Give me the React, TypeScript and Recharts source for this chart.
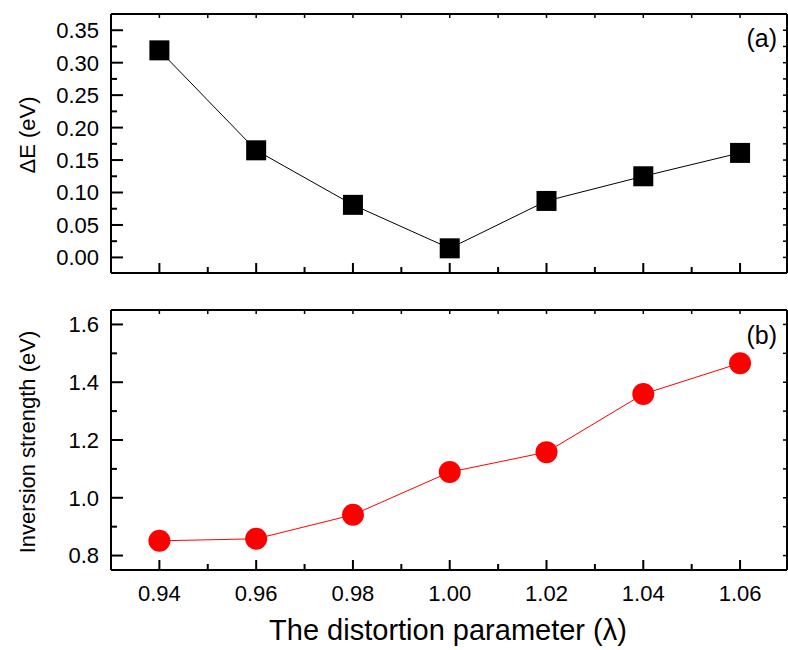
import { LineChart, Line, XAxis, YAxis } from "recharts";

const lambda = [0.94, 0.96, 0.98, 1.0, 1.02, 1.04, 1.06];
const deltaE = [0.319, 0.165, 0.081, 0.014, 0.087, 0.125, 0.161];
const inversion = [0.851, 0.858, 0.941, 1.089, 1.158, 1.359, 1.466];

const xMajor = [0.94, 0.96, 0.98, 1.0, 1.02, 1.04, 1.06];
const xMinor = [0.95, 0.97, 0.99, 1.01, 1.03, 1.05];
const xLabels = ["0.94", "0.96", "0.98", "1.00", "1.02", "1.04", "1.06"];

const topMajor = [0, 0.05, 0.1, 0.15, 0.2, 0.25, 0.3, 0.35];
const topMinor = [0.025, 0.075, 0.125, 0.175, 0.225, 0.275, 0.325];
const topLabels = ["0.00", "0.05", "0.10", "0.15", "0.20", "0.25", "0.30", "0.35"];

const botMajor = [0.8, 1.0, 1.2, 1.4, 1.6];
const botMinor = [0.9, 1.1, 1.3, 1.5];
const botLabels = ["0.8", "1.0", "1.2", "1.4", "1.6"];

const topData = lambda.map((x, i) => ({ x, v: deltaE[i] }));
const botData = lambda.map((x, i) => ({ x, v: inversion[i] }));

const FONT = "'Liberation Sans', Arial, sans-serif";
const X_DOMAIN = [0.93, 1.0697];

const idx = (arr: number[], v: number) =>
  arr.findIndex((a) => Math.abs(a - v) < 1e-6);

// ticks point inward, like the original plot
function BottomTick({ x, y, payload, labels }: any) {
  const i = idx(xMajor, payload.value);
  const major = i >= 0;
  return (
    <g>
      <line x1={x} x2={x} y1={y} y2={y - (major ? 10 : 6)} stroke="#000" strokeWidth={2} />
      {major && labels && (
        <text x={x} y={y + 31} textAnchor="middle" fontSize={22} fontFamily={FONT} fill="#000">
          {labels[i]}
        </text>
      )}
    </g>
  );
}

function TopTick({ x, y }: any) {
  return <line x1={x} x2={x} y1={y} y2={y + 4} stroke="#000" strokeWidth={1.5} />;
}

function RightTick({ x, y }: any) {
  return <line x1={x} x2={x - 4} y1={y} y2={y} stroke="#000" strokeWidth={1.5} />;
}

function LeftTick({ x, y, payload, major, labels }: any) {
  const i = idx(major, payload.value);
  const isMajor = i >= 0;
  return (
    <g>
      <line x1={x} x2={x + (isMajor ? 12 : 6)} y1={y} y2={y} stroke="#000" strokeWidth={2} />
      {isMajor && (
        <text x={x - 12} y={y} dy="0.36em" textAnchor="end" fontSize={22} fontFamily={FONT} fill="#000">
          {labels[i]}
        </text>
      )}
    </g>
  );
}

function SquareDot({ cx, cy }: any) {
  if (cx == null || cy == null) return null;
  return <rect x={cx - 10} y={cy - 10} width={20} height={20} fill="#000" />;
}

function CircleDot({ cx, cy }: any) {
  if (cx == null || cy == null) return null;
  return <circle cx={cx} cy={cy} r={11} fill="#ff0000" />;
}

const yTitle = (text: string, cy: number) => () =>
  (
    <text
      x={27}
      y={cy}
      transform={`rotate(-90 27 ${cy})`}
      textAnchor="middle"
      dominantBaseline="central"
      fontSize={22}
      fontFamily={FONT}
      fill="#000"
    >
      {text}
    </text>
  );

const panelTag = (text: string, y: number) => () =>
  (
    <text x={777} y={y} textAnchor="end" fontSize={25} fontFamily={FONT} fill="#000">
      {text}
    </text>
  );

const xTitle = () => (
  <text x={448} y={350} textAnchor="middle" fontSize={29} fontFamily={FONT} fill="#000">
    The distortion parameter (λ)
  </text>
);

const axisLine = { stroke: "#000", strokeWidth: 2 };

export default function App() {
  return (
    <div style={{ position: "absolute", left: 0, top: 0, width: 788, height: 650, background: "#fff" }}>
      <div style={{ position: "absolute", left: 0, top: 0 }}>
        <LineChart width={788} height={290} data={topData} margin={{ top: 13, right: 0, bottom: 16, left: 0 }}>
          <XAxis
            xAxisId="b"
            dataKey="x"
            type="number"
            domain={X_DOMAIN}
            allowDataOverflow
            ticks={[...xMajor, ...xMinor]}
            interval={0}
            height={1}
            tickSize={0}
            tickMargin={0}
            tickLine={false}
            axisLine={axisLine}
            tick={(p: any) => <BottomTick {...p} />}
          />
          <XAxis
            xAxisId="t"
            orientation="top"
            dataKey="x"
            type="number"
            domain={X_DOMAIN}
            allowDataOverflow
            ticks={[...xMajor, ...xMinor]}
            interval={0}
            height={1}
            tickSize={0}
            tickMargin={0}
            tickLine={false}
            axisLine={axisLine}
            tick={(p: any) => <TopTick {...p} />}
          />
          <YAxis
            yAxisId="l"
            type="number"
            domain={[-0.024, 0.375]}
            allowDataOverflow
            ticks={[...topMajor, ...topMinor]}
            interval={0}
            width={111}
            tickSize={0}
            tickMargin={0}
            tickLine={false}
            axisLine={axisLine}
            tick={(p: any) => <LeftTick {...p} major={topMajor} labels={topLabels} />}
            label={yTitle("ΔE (eV)", 135)}
          />
          <YAxis
            yAxisId="r"
            orientation="right"
            type="number"
            domain={[-0.024, 0.375]}
            allowDataOverflow
            ticks={[...topMajor, ...topMinor]}
            interval={0}
            width={1}
            tickSize={0}
            tickMargin={0}
            tickLine={false}
            axisLine={axisLine}
            tick={(p: any) => <RightTick {...p} />}
            label={panelTag("(a)", 47)}
          />
          <Line
            xAxisId="b"
            yAxisId="l"
            type="linear"
            dataKey="v"
            stroke="#000"
            strokeWidth={1}
            dot={(p: any) => <SquareDot key={p.index} {...p} />}
            isAnimationActive={false}
          />
        </LineChart>
      </div>
      <div style={{ position: "absolute", left: 0, top: 290 }}>
        <LineChart width={788} height={360} data={botData} margin={{ top: 19, right: 0, bottom: 5, left: 0 }}>
          <XAxis
            xAxisId="b"
            dataKey="x"
            type="number"
            domain={X_DOMAIN}
            allowDataOverflow
            ticks={[...xMajor, ...xMinor]}
            interval={0}
            height={75}
            tickSize={0}
            tickMargin={0}
            tickLine={false}
            axisLine={axisLine}
            tick={(p: any) => <BottomTick {...p} labels={xLabels} />}
            label={xTitle}
          />
          <XAxis
            xAxisId="t"
            orientation="top"
            dataKey="x"
            type="number"
            domain={X_DOMAIN}
            allowDataOverflow
            ticks={[...xMajor, ...xMinor]}
            interval={0}
            height={1}
            tickSize={0}
            tickMargin={0}
            tickLine={false}
            axisLine={axisLine}
            tick={(p: any) => <TopTick {...p} />}
          />
          <YAxis
            yAxisId="l"
            type="number"
            domain={[0.75, 1.65]}
            allowDataOverflow
            ticks={[...botMajor, ...botMinor]}
            interval={0}
            width={111}
            tickSize={0}
            tickMargin={0}
            tickLine={false}
            axisLine={axisLine}
            tick={(p: any) => <LeftTick {...p} major={botMajor} labels={botLabels} />}
            label={yTitle("Inversion strength (eV)", 152)}
          />
          <YAxis
            yAxisId="r"
            orientation="right"
            type="number"
            domain={[0.75, 1.65]}
            allowDataOverflow
            ticks={[...botMajor, ...botMinor]}
            interval={0}
            width={1}
            tickSize={0}
            tickMargin={0}
            tickLine={false}
            axisLine={axisLine}
            tick={(p: any) => <RightTick {...p} />}
            label={panelTag("(b)", 54)}
          />
          <Line
            xAxisId="b"
            yAxisId="l"
            type="linear"
            dataKey="v"
            stroke="#ff0000"
            strokeWidth={1}
            dot={(p: any) => <CircleDot key={p.index} {...p} />}
            isAnimationActive={false}
          />
        </LineChart>
      </div>
    </div>
  );
}
